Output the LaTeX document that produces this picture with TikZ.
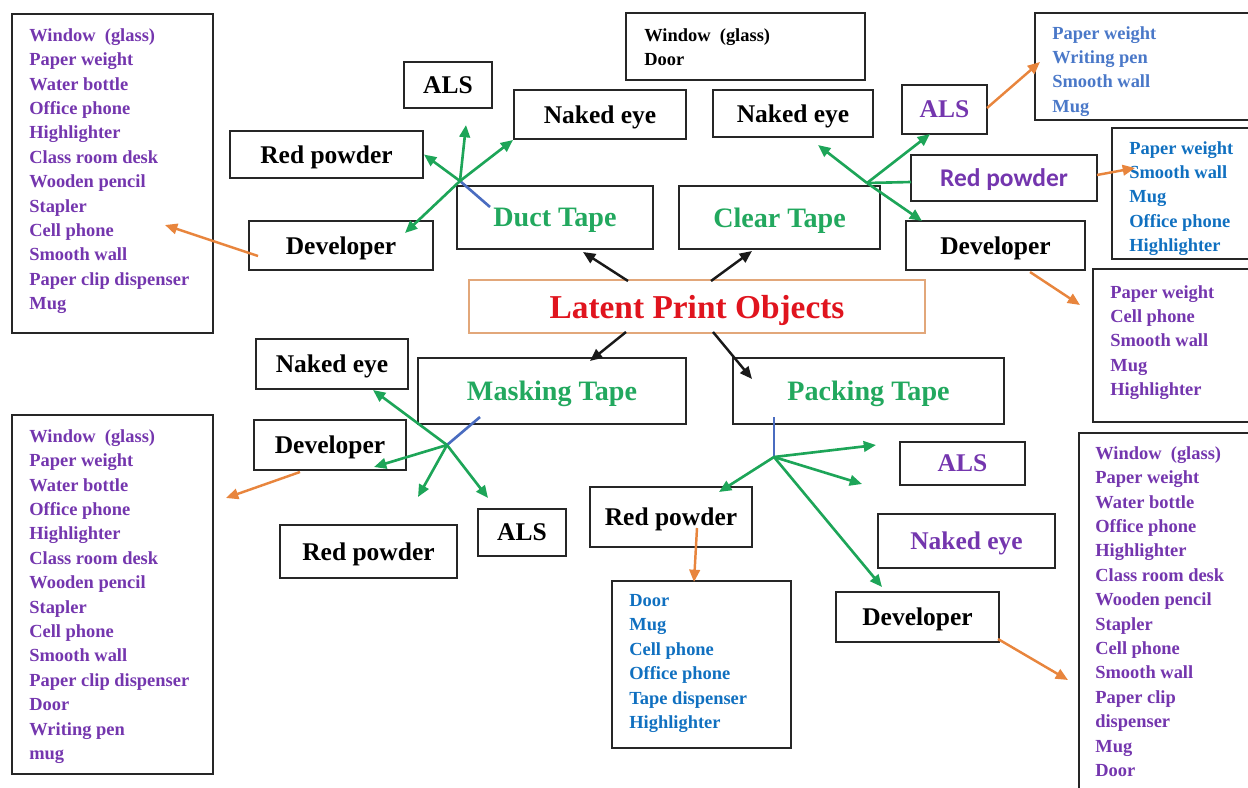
\documentclass[tikz,border=0pt]{standalone}
\usepackage{fontspec}
\setmainfont{Liberation Serif}
\newfontfamily\carl{Carlito}
\usetikzlibrary{fit,arrows.meta}
\definecolor{lpurple}{HTML}{7436AE}
\definecolor{tgreen}{HTML}{22A85E}
\definecolor{agreen}{HTML}{1DA558}
\definecolor{bline}{HTML}{4A6CC0}
\definecolor{aorange}{HTML}{E8853D}
\definecolor{lblueA}{HTML}{4A78C8}
\definecolor{lblueB}{HTML}{1070C0}
\definecolor{tred}{HTML}{E0141E}
\definecolor{lborder}{HTML}{E2A77A}
\begin{document}
\begin{tikzpicture}[x=0.02cm,y=-0.02cm,
  box/.style={draw=black!85,line width=1.1pt,inner sep=0pt},
  sz/.style 2 args={minimum width=#1*0.02cm,minimum height=#2*0.02cm},
  lab/.style={font=\bfseries\fontsize{14.5}{17}\selectfont,text depth=0pt},
  tape/.style={font=\bfseries\fontsize{16}{19}\selectfont,text=tgreen,text depth=0pt},
  lst/.style={anchor=north west,inner sep=0pt,align=left,font=\bfseries\fontsize{10.5}{13.9}\selectfont},
  garr/.style={draw=agreen,line width=1.5pt,-{Triangle[length=7pt,width=6pt]}},
  gline/.style={draw=agreen,line width=1.5pt},
  bl/.style={draw=bline,line width=1.5pt},
  karr/.style={draw=black!90,line width=1.4pt,-{Triangle[length=7pt,width=6pt]}},
  oarr/.style={draw=aorange,line width=1.4pt,-{Triangle[length=7pt,width=6pt]}}
]
\useasboundingbox (0,0) rectangle (1248,788);

% ---------- centre ----------
\node[draw=lborder,line width=0.6pt,inner sep=0pt,sz={456}{53},text depth=0pt,
  font=\bfseries\fontsize{19}{22}\selectfont,text=tred] (lpo) at (697,306.5) {Latent Print Objects};
\node[box,tape,sz={196}{63}] (duct) at (555,217.5) {Duct Tape};
\node[box,tape,sz={201}{63}] (clear) at (779.5,217.5) {Clear Tape};
\node[box,tape,sz={268}{66}] (mask) at (552,391) {Masking Tape};
\node[box,tape,sz={271}{66}] (pack) at (868.5,391) {Packing Tape};

\coordinate (lpoA) at (628,281);
\coordinate (lpoB) at (711,281);
\coordinate (lpoC) at (626,332);
\coordinate (lpoD) at (713,332);
\coordinate (ductIn) at (583,252);
\coordinate (clearIn) at (752,251);
\coordinate (maskIn) at (590,361);
\coordinate (packIn) at (752,379);
\draw[karr] (lpoA) -- (ductIn);
\draw[karr] (lpoB) -- (clearIn);
\draw[karr] (lpoC) -- (maskIn);
\draw[karr] (lpoD) -- (packIn);

% ---------- Duct tape branch ----------
\node[box,lab,sz={88}{46}] (als1) at (448,85) {ALS};
\node[box,lab,sz={172}{49}] (ne1) at (600,114.5) {Naked eye};
\node[box,lab,sz={193}{47}] (rp1) at (326.5,154.5) {Red powder};
\node[box,lab,sz={184}{49}] (dv1) at (341,245.5) {Developer};
\node[box,fit={(12,14)(213,333)}] (list1) {};
\node[lst,text=lpurple] (list1t) at (29,28) {Window~ (glass)\\Paper weight\\Water bottle\\Office phone\\Highlighter\\Class room desk\\Wooden pencil\\Stapler\\Cell phone\\Smooth wall\\Paper clip dispenser\\Mug};

\coordinate (hD) at (460,181);
\coordinate (dA) at (466,125);
\coordinate (dDv) at (405,233);
\coordinate (dB) at (490,207);
\draw[bl] (hD) -- (dB);
\draw[garr] (hD) -- (dA);
\draw[garr] (hD) -- (rp1.east);
\draw[garr] (hD) -- (ne1.south west);
\draw[garr] (hD) -- (dDv);
\coordinate (dv1o) at (258,256);
\coordinate (list1i) at (165,225);
\draw[oarr] (dv1o) -- (list1i);

% ---------- Clear tape branch ----------
\node[box,fit={(626,13)(865,80)}] (wd) {};
\node[lst,text=black] (wdt) at (644,28) {Window~ (glass)\\Door};
\node[box,lab,sz={160}{47}] (ne2) at (793,113.5) {Naked eye};
\node[box,lab,text=lpurple,sz={85}{49}] (als2) at (944.5,109.5) {ALS};
\node[box,sz={186}{46},text depth=0pt,font=\carl\bfseries\fontsize{14.5}{17}\selectfont,text=lpurple] (rp2) at (1004,178) {Red powder};
\node[box,lab,sz={179}{49}] (dv2) at (995.5,245.5) {Developer};
\node[box,fit={(1035,13)(1252,120)}] (list2) {};
\node[lst,text=lblueA] (list2t) at (1052,26) {Paper weight\\Writing pen\\Smooth wall\\Mug};
\node[box,fit={(1112,128)(1252,259)}] (list3) {};
\node[lst,text=lblueB] (list3t) at (1129,141) {Paper weight\\Smooth wall\\Mug\\Office phone\\Highlighter};
\node[box,fit={(1093,269)(1252,422)}] (list4) {};
\node[lst,text=lpurple] (list4t) at (1110,285) {Paper weight\\Cell phone\\Smooth wall\\Mug\\Highlighter};

\coordinate (hC) at (867,183);
\coordinate (cNe) at (818,145);
\coordinate (cAls) at (930,134);
\coordinate (cRp) at (911,182);
\coordinate (cDv) at (922,221);
\draw[garr] (hC) -- (cNe);
\draw[garr] (hC) -- (cAls);
\draw[gline] (hC) -- (cRp);
\draw[garr] (hC) -- (cDv);
\coordinate (als2o) at (987,108);
\coordinate (list2i) at (1040,62);
\draw[oarr] (als2o) -- (list2i);
\coordinate (rp2o) at (1097,175);
\coordinate (list3i) at (1135,168);
\draw[oarr] (rp2o) -- (list3i);
\coordinate (dv2o) at (1030,272);
\coordinate (list4i) at (1080,305);
\draw[oarr] (dv2o) -- (list4i);

% ---------- Masking tape branch ----------
\node[box,lab,sz={152}{50}] (ne3) at (332,364) {Naked eye};
\node[box,lab,sz={152}{50}] (dv3) at (330,445) {Developer};
\node[box,lab,sz={177}{53}] (rp3) at (368.5,551.5) {Red powder};
\node[box,lab,sz={88}{47}] (als3) at (522,532.5) {ALS};
\node[box,fit={(12,415)(213,774)}] (list5) {};
\node[lst,text=lpurple] (list5t) at (29,429) {Window~ (glass)\\Paper weight\\Water bottle\\Office phone\\Highlighter\\Class room desk\\Wooden pencil\\Stapler\\Cell phone\\Smooth wall\\Paper clip dispenser\\Door\\Writing pen\\mug};

\coordinate (hM) at (447,445);
\coordinate (mB) at (480,417);
\coordinate (mNe) at (373,390);
\coordinate (mDv) at (374,467);
\coordinate (mRp) at (418,497);
\coordinate (mAls) at (488,498);
\draw[bl] (hM) -- (mB);
\draw[garr] (hM) -- (mNe);
\draw[garr] (hM) -- (mDv);
\draw[garr] (hM) -- (mRp);
\draw[garr] (hM) -- (mAls);
\coordinate (dv3o) at (300,472);
\coordinate (list5i) at (226,498);
\draw[oarr] (dv3o) -- (list5i);

% ---------- Packing tape branch ----------
\node[box,lab,text=lpurple,sz={125}{43}] (als4) at (962.5,463.5) {ALS};
\node[box,lab,text=lpurple,sz={177}{54}] (ne4) at (966.5,541) {Naked eye};
\node[box,lab,sz={162}{60}] (rp4) at (671,517) {Red powder};
\node[box,lab,sz={163}{50}] (dv4) at (917.5,617) {Developer};
\node[box,fit={(612,581)(791,748)}] (list6) {};
\node[lst,text=lblueB] (list6t) at (629,594) {Door\\Mug\\Cell phone\\Office phone\\Tape dispenser\\Highlighter};
\node[box,fit={(1079,433)(1252,792)}] (list7) {};
\node[lst,text=lpurple] (list7t) at (1095,446) {Window~ (glass)\\Paper weight\\Water bottle\\Office phone\\Highlighter\\Class room desk\\Wooden pencil\\Stapler\\Cell phone\\Smooth wall\\Paper clip\\dispenser\\Mug\\Door};

\coordinate (hP) at (774,457);
\coordinate (pB) at (774,417);
\coordinate (pAls) at (876,445);
\coordinate (pMid) at (862,484);
\coordinate (pRp) at (719,492);
\coordinate (pDv) at (882,587);
\draw[bl] (pB) -- (hP);
\draw[garr] (hP) -- (pAls);
\draw[garr] (hP) -- (pMid);
\draw[garr] (hP) -- (pRp);
\draw[garr] (hP) -- (pDv);
\coordinate (rp4o) at (697,528);
\coordinate (list6i) at (694,582);
\draw[oarr] (rp4o) -- (list6i);
\coordinate (dv4o) at (998,639);
\coordinate (list7i) at (1068,680);
\draw[oarr] (dv4o) -- (list7i);
\end{tikzpicture}
\end{document}
